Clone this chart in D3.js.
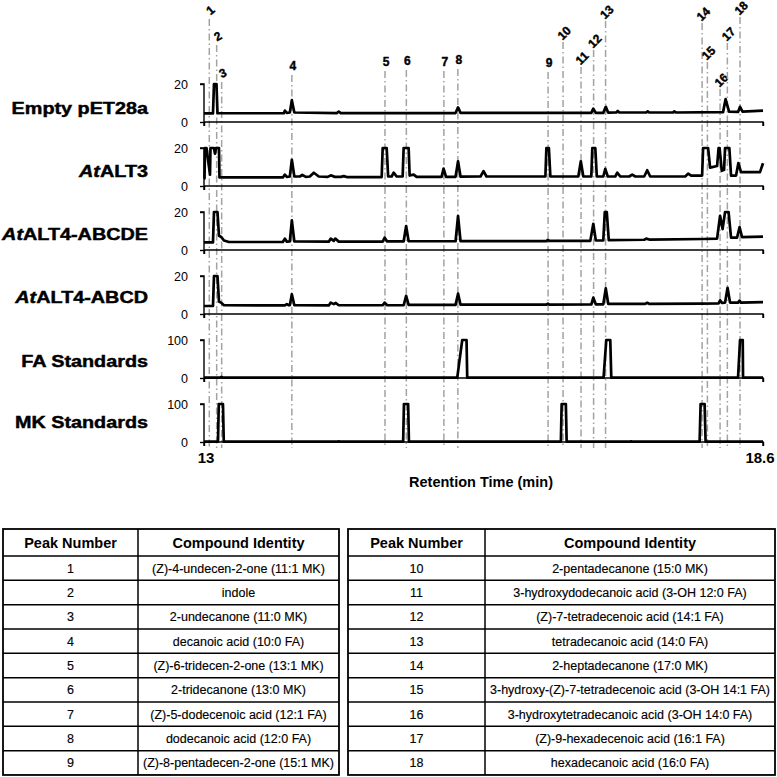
<!DOCTYPE html>
<html><head><meta charset="utf-8">
<script src="https://cdn.jsdelivr.net/npm/d3@7"></script>
<style>body{margin:0;background:#fff}svg{display:block}</style>
</head><body>
<svg id="c" width="777" height="777"></svg>
<script>
// ---------------- DATA ----------------
const sampleLabels = [
  [["", false], ["Empty pET28a", false]],
  [["At", true], ["ALT3", false]],
  [["At", true], ["ALT4-ABCDE", false]],
  [["At", true], ["ALT4-ABCD", false]],
  [["", false], ["FA Standards", false]],
  [["", false], ["MK Standards", false]]
];
const panelMax = [20, 20, 20, 20, 100, 100];
const xDomain = [13, 18.6];
const xTickLabels = ["13", "18.6"];

const traceEmpty = [[13.00,4.5],[13.09,4.5],[13.10,20],[13.125,20],[13.135,4.6],[13.80,4.6],[13.81,6],[13.83,4.8],[13.86,5],[13.88,11.5],[13.905,5],[14.33,4.7],[14.35,5.5],[14.37,4.7],[15.52,4.7],[15.545,7.7],[15.57,4.8],[16.88,4.8],[16.90,7],[16.925,4.8],[17.00,4.8],[17.025,8],[17.05,4.9],[17.13,5],[17.145,5.8],[17.16,5],[17.43,5],[17.445,5.6],[17.46,5],[17.70,5],[17.71,5.6],[17.73,5],[18.20,5.2],[18.225,12],[18.26,5.5],[18.35,5.3],[18.37,8],[18.395,5.5],[18.6,6]];
const traceALT3 = [[13.00,4],[13.005,4],[13.01,20],[13.025,20],[13.06,6],[13.065,20],[13.10,20],[13.11,17],[13.12,20],[13.15,20],[13.155,4.5],[13.79,4.5],[13.81,6],[13.83,4.8],[13.86,5],[13.88,13.8],[13.905,5],[13.96,5],[13.985,5.8],[14.02,4.8],[14.06,5],[14.10,7],[14.15,5],[14.24,4.8],[14.27,5.6],[14.31,4.8],[14.37,4.8],[14.40,5.2],[14.43,4.7],[14.78,4.7],[14.79,20],[14.83,20],[14.845,5],[14.88,5],[14.90,7],[14.93,5],[14.99,5],[15.00,20],[15.05,20],[15.06,5.5],[15.10,6],[15.13,4.8],[15.38,4.8],[15.40,9.2],[15.425,4.8],[15.52,4.8],[15.545,13],[15.57,4.9],[15.77,5],[15.80,7.8],[15.83,5],[16.42,5],[16.43,20],[16.455,20],[16.47,5],[16.75,5],[16.775,13],[16.80,5],[16.88,5],[16.89,20],[16.92,20],[16.935,5],[17.00,5],[17.02,9],[17.045,5],[17.12,5],[17.14,7],[17.17,5],[17.26,5],[17.29,6],[17.32,5],[17.41,5],[17.44,8.3],[17.47,5],[17.82,5],[17.85,6.5],[17.88,5.5],[17.99,5.5],[18.00,20],[18.05,20],[18.07,9.7],[18.14,10.5],[18.155,20],[18.165,20],[18.187,8],[18.21,8.5],[18.22,20],[18.263,20],[18.28,5.5],[18.33,5.5],[18.353,12],[18.38,7.3],[18.57,7.3],[18.6,12]];
const traceABCDE = [[13.00,4],[13.09,4],[13.10,20],[13.135,20],[13.15,7.5],[13.17,7],[13.20,5],[13.25,4.2],[13.79,4.2],[13.81,6],[13.83,4.4],[13.86,4.5],[13.88,15.6],[13.905,4.5],[14.25,4.4],[14.27,6],[14.30,4.8],[14.315,6],[14.35,4.4],[14.79,4.4],[14.81,6.5],[14.835,4.5],[15.00,4.5],[15.025,12.6],[15.05,4.6],[15.52,4.6],[15.545,17.9],[15.57,4.7],[16.43,4.7],[16.445,5.3],[16.46,4.8],[16.87,4.8],[16.90,13.8],[16.925,5],[17.00,5],[17.015,20],[17.035,20],[17.055,5.2],[17.41,5.4],[17.43,6],[17.46,5.5],[18.00,5.8],[18.14,6],[18.17,18],[18.195,11],[18.22,20],[18.255,20],[18.28,6.5],[18.34,6.5],[18.365,12],[18.39,6.8],[18.6,7]];
const traceABCD = [[13.00,4.2],[13.09,4.2],[13.10,20],[13.135,20],[13.15,6.5],[13.17,6],[13.20,4.6],[13.81,4.5],[13.83,5.2],[13.85,4.6],[13.86,4.6],[13.88,10.4],[13.905,4.6],[14.25,4.5],[14.27,6],[14.30,5.2],[14.32,5.8],[14.35,4.6],[14.79,4.6],[14.81,6],[14.835,4.6],[15.00,4.6],[15.025,9.5],[15.05,4.8],[15.52,4.8],[15.545,10.7],[15.57,4.9],[16.43,4.9],[16.445,5.4],[16.46,4.9],[16.88,5],[16.90,8.6],[16.925,5.1],[17.00,5.1],[17.025,13.5],[17.05,5.3],[17.42,5.3],[17.44,5.9],[17.46,5.3],[17.98,5.5],[18.155,5.6],[18.17,7.2],[18.19,5.9],[18.22,6],[18.245,13.8],[18.27,6],[18.35,6],[18.365,7],[18.38,6],[18.6,6.2]];
const traceFA = [[13.00,1],[13.16,1],[13.175,3],[13.19,1],[15.537,1],[15.587,100],[15.63,100],[15.637,1],[17.003,1],[17.03,100],[17.07,100],[17.08,1],[18.35,1],[18.37,100],[18.397,100],[18.40,1],[18.6,1]];
const traceMK = [[13.00,0.8],[13.14,0.8],[13.148,100],[13.19,100],[13.198,0.8],[14.34,0.8],[14.35,2],[14.36,0.8],[14.995,0.8],[15.003,100],[15.045,100],[15.053,0.8],[16.575,0.8],[16.583,100],[16.625,100],[16.633,0.8],[17.27,0.8],[17.28,2],[17.29,0.8],[17.965,0.8],[17.975,100],[18.015,100],[18.025,0.8],[18.6,0.8]];
const traces = [traceEmpty, traceALT3, traceABCDE, traceABCD, traceFA, traceMK];

const peakNumbers = [1,2,3,4,5,6,7,8,9,10,11,12,13,14,15,16,17,18];
const peakTimes = [13.053,13.127,13.177,13.88,14.813,15.027,15.403,15.543,16.447,16.597,16.777,16.903,17.023,17.99,18.043,18.17,18.243,18.37];
const compoundNames = [
  "(Z)-4-undecen-2-one (11:1 MK)",
  "indole",
  "2-undecanone (11:0 MK)",
  "decanoic acid (10:0 FA)",
  "(Z)-6-tridecen-2-one (13:1 MK)",
  "2-tridecanone (13:0 MK)",
  "(Z)-5-dodecenoic acid (12:1 FA)",
  "dodecanoic acid (12:0 FA)",
  "(Z)-8-pentadecen-2-one (15:1 MK)",
  "2-pentadecanone (15:0 MK)",
  "3-hydroxydodecanoic acid (3-OH 12:0 FA)",
  "(Z)-7-tetradecenoic acid (14:1 FA)",
  "tetradecanoic acid (14:0 FA)",
  "2-heptadecanone (17:0 MK)",
  "3-hydroxy-(Z)-7-tetradecenoic acid (3-OH 14:1 FA)",
  "3-hydroxytetradecanoic acid (3-OH 14:0 FA)",
  "(Z)-9-hexadecenoic acid (16:1 FA)",
  "hexadecanoic acid (16:0 FA)"
];
const tableHeaders = ["Peak Number", "Compound Identity"];

// ---------------- LAYOUT ----------------
const FONT = "'Liberation Sans', Arial, Helvetica, sans-serif";
const labelCenterY = [10,36,73,66,62,61,62,60,63,33,58,41,12,14,53,80,34,8];
const labelRotate = [-40,-30,-25,0,0,0,0,0,0,-45,-45,-45,-45,-45,-45,-45,-45,-45];
const panelTop0 = 84, panelStep = 64, panelH = 38;
const nameBaseline = [114, 176.5, 240, 302.5, 366.5, 428];

const svg = d3.select("#c");
const x = d3.scaleLinear().domain(xDomain).range([204, 763]);

// guide lines (behind)
const guides = svg.append("g");
peakNumbers.forEach((n, i) => {
  const px = x(peakTimes[i]);
  guides.append("line")
    .attr("x1", px).attr("x2", px)
    .attr("y1", labelCenterY[i] + 9).attr("y2", 448)
    .attr("stroke", "#a3a3a3").attr("stroke-width", 1.5)
    .attr("stroke-dasharray", "7,3,1.5,3");
  guides.append("text")
    .attr("transform", `translate(${px + 1},${labelCenterY[i]}) rotate(${labelRotate[i]})`)
    .attr("text-anchor", "middle").attr("dy", "0.36em")
    .attr("font-family", FONT).attr("font-weight", "bold").attr("font-size", 12)
    .attr("stroke", "#000").attr("stroke-width", 0.4)
    .text(n);
});

traces.forEach((tr, i) => {
  const top = panelTop0 + i * panelStep;
  const y = d3.scaleLinear().domain([0, panelMax[i]]).range([top + panelH, top]);
  const g = svg.append("g");
  // y axis
  const yAxis = d3.axisLeft(y).tickValues([0, panelMax[i]]).tickSize(4).tickPadding(12);
  const ya = g.append("g").attr("transform", "translate(204,0)").call(yAxis);
  ya.select(".domain").attr("stroke-width", 1.4).attr("d", `M-4,${y(panelMax[i])}H0V${top + panelH + 4}`);
  ya.selectAll(".tick line").attr("stroke-width", 1.4);
  ya.selectAll(".tick text").attr("font-family", FONT).attr("font-size", 12.5).attr("fill", "#000");
  // x baseline
  const xa = g.append("g").attr("transform", `translate(0,${top + panelH})`)
    .call(d3.axisBottom(x).tickValues(xDomain).tickSize(4).tickFormat(""));
  xa.select(".domain").attr("stroke-width", 1.4).attr("d", `M204,0H763V4`);
  xa.selectAll(".tick line").attr("stroke-width", 1.4);
  // trace
  g.append("path").datum(tr)
    .attr("fill", "none").attr("stroke", "#000").attr("stroke-width", 2.7)
    .attr("stroke-linejoin", "round")
    .attr("d", d3.line().x(d => x(d[0])).y(d => y(d[1])));
  // panel name
  const t = g.append("text")
    .attr("transform", `translate(148,${nameBaseline[i]}) scale(1.2,1)`)
    .attr("text-anchor", "end")
    .attr("font-family", FONT).attr("font-weight", "bold").attr("font-size", 16.5)
    .attr("stroke", "#000").attr("stroke-width", 0.45);
  sampleLabels[i].forEach(([s, it]) => {
    if (s) t.append("tspan").attr("font-style", it ? "italic" : "normal").text(s);
  });
});

// x tick labels + title
svg.append("text").attr("x", 206).attr("y", 463).attr("text-anchor", "middle")
  .attr("font-family", FONT).attr("font-weight", "bold").attr("font-size", 15).text(xTickLabels[0]);
svg.append("text").attr("x", 760).attr("y", 463).attr("text-anchor", "middle")
  .attr("font-family", FONT).attr("font-weight", "bold").attr("font-size", 15).text(xTickLabels[1]);
svg.append("text").attr("x", 481).attr("y", 487).attr("text-anchor", "middle")
  .attr("font-family", FONT).attr("font-weight", "bold").attr("font-size", 14.5)
  .text("Retention Time (min)");

// tables
function drawTable(x0, xDiv, x1, rows) {
  const yTop = 529, hH = 27, rH = 24.33;
  const g = svg.append("g");
  const yBot = yTop + hH + rows.length * rH;
  g.append("rect").attr("x", x0).attr("y", yTop).attr("width", x1 - x0).attr("height", yBot - yTop)
    .attr("fill", "none").attr("stroke", "#000").attr("stroke-width", 1.8);
  g.append("line").attr("x1", xDiv).attr("x2", xDiv).attr("y1", yTop).attr("y2", yBot)
    .attr("stroke", "#000").attr("stroke-width", 1.5);
  for (let r = 0; r < rows.length; r++) {
    const yy = yTop + hH + r * rH;
    g.append("line").attr("x1", x0).attr("x2", x1).attr("y1", yy).attr("y2", yy)
      .attr("stroke", "#000").attr("stroke-width", 1.5);
  }
  [x0, xDiv].forEach((xa, c) => {
    const xb = c === 0 ? xDiv : x1;
    g.append("text").attr("x", (xa + xb) / 2).attr("y", yTop + hH / 2).attr("dy", "0.36em")
      .attr("text-anchor", "middle").attr("font-family", FONT).attr("font-weight", "bold")
      .attr("font-size", 14.5).text(tableHeaders[c]);
    rows.forEach((row, r) => {
      g.append("text").attr("x", (xa + xb) / 2).attr("y", yTop + hH + r * rH + rH / 2).attr("dy", "0.36em")
        .attr("text-anchor", "middle").attr("font-family", FONT).attr("font-size", 12.5)
        .attr("stroke", "#000").attr("stroke-width", 0.15)
        .text(row[c]);
    });
  });
}
const rowsAll = peakNumbers.map((n, i) => [String(n), compoundNames[i]]);
drawTable(3, 138, 339, rowsAll.slice(0, 9));
drawTable(348, 485, 775, rowsAll.slice(9));
</script>
</body></html>
